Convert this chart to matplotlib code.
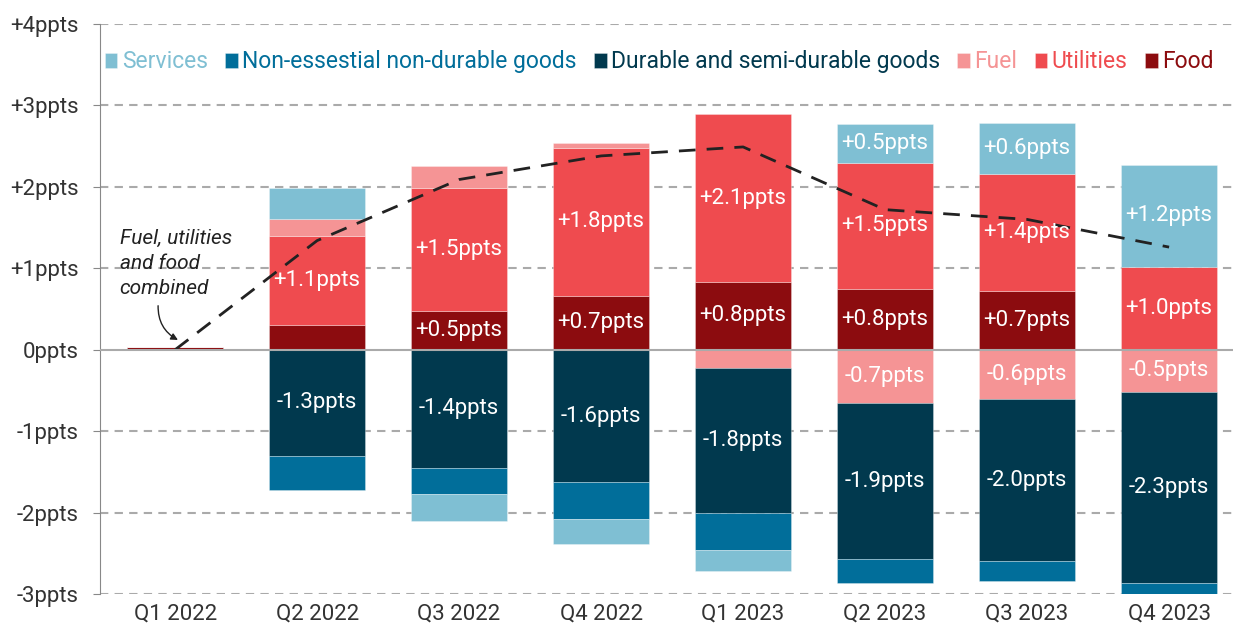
import numpy as np
import matplotlib.pyplot as plt

plt.rcParams['font.family'] = ['Roboto', 'DejaVu Sans']

quarters = ['Q1 2022', 'Q2 2022', 'Q3 2022', 'Q4 2022',
            'Q1 2023', 'Q2 2023', 'Q3 2023', 'Q4 2023']

# contributions (ppts) per category
food = [0.03, 0.30, 0.47, 0.66, 0.83, 0.75, 0.72, 0.0]
utilities = [0.0, 1.10, 1.52, 1.82, 2.06, 1.54, 1.44, 1.02]
fuel = [0.0, 0.21, 0.27, 0.06, -0.22, -0.66, -0.61, -0.52]
durable = [0.0, -1.30, -1.45, -1.63, -1.79, -1.91, -1.98, -2.34]
nonessential = [0.0, -0.42, -0.32, -0.45, -0.45, -0.30, -0.25, -0.16]
services = [0.0, 0.37, -0.33, -0.30, -0.26, 0.48, 0.62, 1.25]

# fuel, utilities and food combined
combined = [0.0, 1.34, 2.09, 2.38, 2.49, 1.72, 1.60, 1.26]

names = ['Food', 'Utilities', 'Fuel', 'Durable and semi-durable goods',
         'Non-essestial non-durable goods', 'Services']
series = [food, utilities, fuel, durable, nonessential, services]
colors = ['#8c0c0f', '#ef4b4f', '#f59495', '#01394e', '#016e9a', '#7fbfd3']

# which segments get a value label
show = {
    'Food': [0, 0, 1, 1, 1, 1, 1, 0],
    'Utilities': [0, 1, 1, 1, 1, 1, 1, 1],
    'Fuel': [0, 0, 0, 0, 0, 1, 1, 1],
    'Durable and semi-durable goods': [0, 1, 1, 1, 1, 1, 1, 1],
    'Non-essestial non-durable goods': [0] * 8,
    'Services': [0, 0, 0, 0, 0, 1, 1, 1],
}

fig = plt.figure(figsize=(12.33, 6.31), dpi=100)
ax = fig.add_axes([0.081, 0.0586, 0.919, 0.9034])

x = np.arange(len(quarters))
w = 0.68
pos_base = np.zeros(len(x))
neg_base = np.zeros(len(x))
for name, vals, c in zip(names, series, colors):
    v = np.array(vals)
    base = np.where(v >= 0, pos_base, neg_base)
    ax.bar(x, v, w, bottom=base, color=c, edgecolor=(1, 1, 1, 0.35),
           linewidth=0.6, zorder=2, label=name)
    for i in range(len(x)):
        if show[name][i]:
            lab = ('+' if v[i] > 0 else '-') + '%.1fppts' % abs(v[i])
            ax.text(x[i], base[i] + v[i] / 2, lab, ha='center', va='center',
                    color='white', fontsize=16, zorder=4)
    pos_base = pos_base + np.where(v > 0, v, 0)
    neg_base = neg_base + np.where(v < 0, v, 0)

ax.plot(x, combined, color='#222222', lw=2, linestyle=(0, (6, 4)), zorder=3)

ax.text(-0.39, 0.64, 'Fuel, utilities\nand food\ncombined', fontsize=15,
        style='italic', color='#222222', ha='left', va='bottom',
        linespacing=1.38)
ax.annotate('', xy=(0.02, 0.12), xytext=(-0.12, 0.54),
            arrowprops=dict(arrowstyle='-|>', color='#222222', lw=1,
                            connectionstyle='arc3,rad=0.3',
                            shrinkA=0, shrinkB=0))

ax.set_xlim(-0.53, 7.45)
ax.set_ylim(-3, 4)
ax.set_xticks(x)
ax.set_xticklabels(quarters)
yt = np.arange(-3, 5)
ax.set_yticks(yt)
ax.set_yticklabels([('+%dppts' % t if t > 0 else '%dppts' % t) for t in yt])
for t in yt:
    if t == 0:
        ax.axhline(0, color='#aaaaaa', lw=1.5, zorder=3.5)
    else:
        ax.axhline(t, color='#aaaaaa', lw=1.5, linestyle=(0, (4, 3)), zorder=1)

for s in ['top', 'right', 'bottom']:
    ax.spines[s].set_visible(False)
ax.spines['left'].set_color('#888888')
ax.tick_params(axis='y', length=5, color='#888888', labelsize=16,
               labelcolor='#333333', pad=10)
ax.tick_params(axis='x', length=0, labelsize=16, labelcolor='#333333', pad=7)

handles, labels = ax.get_legend_handles_labels()
order = [5, 4, 3, 2, 1, 0]
leg = ax.legend([handles[i] for i in order], [labels[i] for i in order],
                ncol=6, loc='upper right', bbox_to_anchor=(0.995, 0.978),
                frameon=False, fontsize=16.5, handlelength=0.55,
                handleheight=0.65, handletextpad=0.2, columnspacing=0.75,
                borderaxespad=0.2)
for txt, i in zip(leg.get_texts(), order):
    txt.set_color(colors[i])

fig.savefig('out.png', dpi=100)
